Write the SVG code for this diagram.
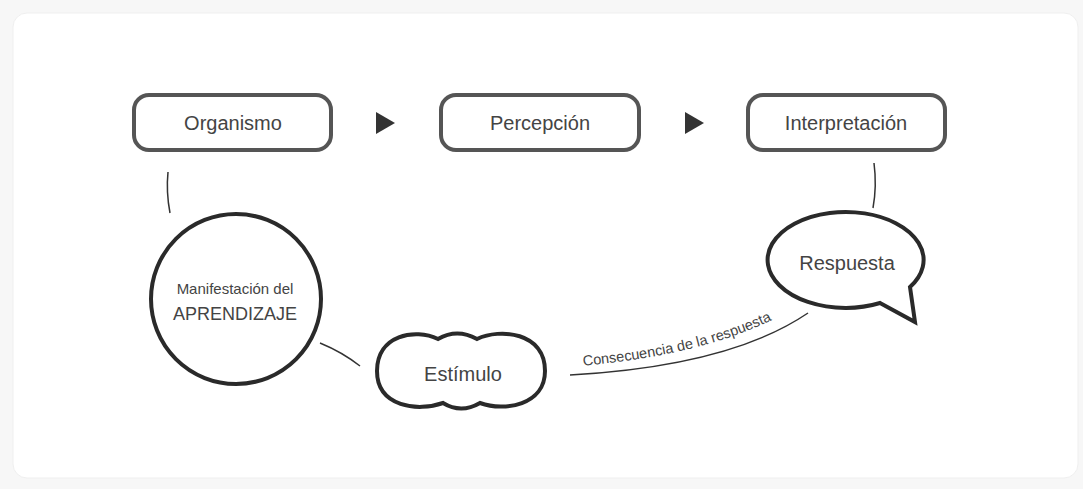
<svg xmlns="http://www.w3.org/2000/svg" width="1083" height="489" viewBox="0 0 1083 489">
<defs>
<style>
.box{fill:#fff;stroke:#555;stroke-width:4}
.shape{fill:#fff;stroke:#2a2a2a;stroke-width:4}
.lbl{font-family:"Liberation Sans",Arial,sans-serif;fill:#444;text-anchor:middle}
.conn{fill:none;stroke:#333;stroke-width:1.5}
.tri{fill:#333}
</style>
<path id="tp" d="M 580,366 Q 718,354 794,308"/>
</defs>
<rect x="0" y="0" width="1083" height="489" fill="#f7f7f7"/>
<rect x="13" y="13" width="1065" height="465" rx="14" fill="#fff" stroke="#efefef" stroke-width="1"/>
<g id="connectors">
<path class="conn" d="M 168,172 Q 166,192 170,213"/>
<path class="conn" d="M 874,163 Q 877,186 873,208"/>
<path class="conn" d="M 320,343 Q 342,352 360,366"/>
<path class="conn" d="M 570,375 Q 730,366 808,313"/>
<polygon class="tri" points="376,112 395,123 376,134"/>
<polygon class="tri" points="685,112 704,123 685,134"/>
<text class="lbl" font-size="14.5" style="text-anchor:start" fill="#222"><textPath href="#tp" startOffset="3">Consecuencia de la respuesta</textPath></text>
</g>
<g id="organismo">
<rect class="box" x="134" y="95" width="197" height="55" rx="15"/>
<text class="lbl" x="233" y="130" font-size="20">Organismo</text>
</g>
<g id="percepcion">
<rect class="box" x="441" y="95" width="198" height="55" rx="15"/>
<text class="lbl" x="540" y="130" font-size="20">Percepción</text>
</g>
<g id="interpretacion">
<rect class="box" x="748" y="95" width="197" height="55" rx="15"/>
<text class="lbl" x="846" y="130" font-size="20">Interpretación</text>
</g>
<g id="aprendizaje">
<circle class="shape" cx="236" cy="299" r="85"/>
<text class="lbl" x="235" y="294" font-size="15">Manifestación del</text>
<text class="lbl" x="235" y="320" font-size="18">APRENDIZAJE</text>
</g>
<g id="estimulo">
<path class="shape" d="M 438,339 Q 457,328 477,339 C 500,328 545,332 545,371 C 545,405 505,412 480,403 Q 461,414 443,403 C 418,412 377,407 377,371 C 377,335 415,328 438,339 Z"/>
<text class="lbl" x="463" y="381" font-size="20">Estímulo</text>
</g>
<g id="respuesta">
<path class="shape" d="M 880,303 L 915,322 L 910,287 A 78 48 0 1 0 880,303 Z" stroke-linejoin="miter"/>
<text class="lbl" x="847" y="270" font-size="20">Respuesta</text>
</g>
</svg>
